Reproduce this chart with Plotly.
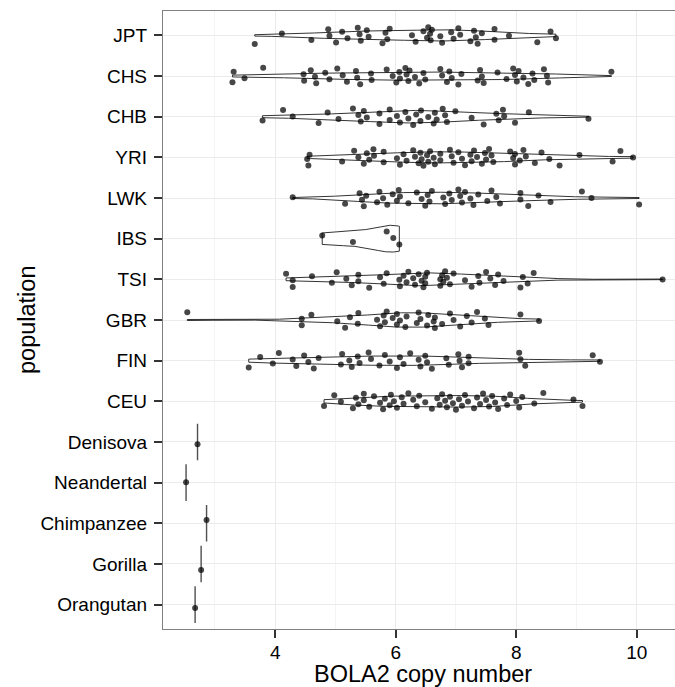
import numpy as np
import plotly.graph_objects as go

# BOLA2 copy number per individual, 1000 Genomes populations (top to bottom)
populations = ["JPT", "CHS", "CHB", "YRI", "LWK", "IBS", "TSI", "GBR", "FIN", "CEU"]
archaic = ["Denisova", "Neandertal", "Chimpanzee", "Gorilla", "Orangutan"]

jpt = [3.66, 4.11, 4.60, 4.88, 4.90, 5.01, 5.11, 5.20, 5.37, 5.40, 5.42, 5.52, 5.55,
       5.78, 5.83, 5.86, 5.90, 6.27, 6.33, 6.46, 6.52, 6.54, 6.57, 6.58, 6.60, 6.74,
       6.77, 6.92, 6.96, 7.04, 7.07, 7.24, 7.30, 7.33, 7.36, 7.43, 7.64, 7.64, 7.88,
       8.35, 8.57, 8.66]
chs = [3.29, 3.31, 3.49, 3.80, 4.47, 4.48, 4.59, 4.66, 4.68, 4.83, 4.90, 5.03, 5.12,
       5.19, 5.34, 5.36, 5.41, 5.59, 5.60, 5.85, 5.95, 6.01, 6.06, 6.07, 6.16, 6.18,
       6.21, 6.23, 6.32, 6.39, 6.46, 6.49, 6.74, 6.77, 6.85, 6.89, 6.93, 7.04, 7.09,
       7.36, 7.40, 7.43, 7.46, 7.69, 7.84, 7.95, 7.98, 8.01, 8.04, 8.12, 8.20, 8.27,
       8.30, 8.46, 8.51, 8.53, 9.58]
chb = [3.79, 4.13, 4.29, 4.72, 4.87, 5.05, 5.29, 5.38, 5.42, 5.47, 5.52, 5.73, 5.73,
       5.90, 5.90, 6.02, 6.07, 6.16, 6.21, 6.29, 6.34, 6.41, 6.42, 6.54, 6.63, 6.65,
       6.68, 6.78, 6.82, 6.85, 6.99, 7.26, 7.46, 7.67, 7.71, 7.78, 7.80, 7.98, 8.21,
       9.20]
yri = [4.53, 4.55, 4.57, 5.11, 5.31, 5.38, 5.47, 5.52, 5.56, 5.63, 5.64, 5.80, 5.80,
       6.02, 6.07, 6.13, 6.18, 6.29, 6.32, 6.38, 6.41, 6.43, 6.46, 6.52, 6.54, 6.57,
       6.63, 6.65, 6.74, 6.74, 6.90, 6.93, 6.96, 7.04, 7.10, 7.15, 7.24, 7.26, 7.30,
       7.35, 7.43, 7.48, 7.50, 7.55, 7.59, 7.62, 7.90, 7.95, 7.98, 7.98, 8.06, 8.12,
       8.16, 8.31, 8.42, 8.55, 8.72, 9.05, 9.60, 9.73, 9.94]
lwk = [4.29, 5.16, 5.40, 5.44, 5.47, 5.51, 5.69, 5.73, 5.79, 5.86, 5.95, 6.02, 6.05,
       6.07, 6.21, 6.35, 6.43, 6.49, 6.53, 6.56, 6.60, 6.79, 6.82, 6.89, 6.93, 7.04,
       7.07, 7.10, 7.15, 7.24, 7.29, 7.37, 7.52, 7.59, 7.67, 7.73, 8.07, 8.07, 8.20,
       8.37, 8.57, 9.09, 9.25, 10.04]
ibs = [4.78, 5.29, 5.85, 5.96, 6.06]
tsi = [4.18, 4.29, 4.29, 4.61, 4.94, 5.02, 5.18, 5.27, 5.38, 5.38, 5.56, 5.74, 5.80,
       5.85, 6.06, 6.07, 6.13, 6.18, 6.21, 6.29, 6.32, 6.38, 6.43, 6.46, 6.49, 6.49,
       6.52, 6.74, 6.74, 6.77, 6.79, 6.82, 6.85, 6.90, 6.96, 7.15, 7.26, 7.37, 7.39,
       7.50, 7.57, 7.65, 7.70, 7.79, 8.07, 8.11, 8.19, 8.29, 10.43]
gbr = [2.54, 4.44, 4.44, 4.60, 5.03, 5.16, 5.24, 5.37, 5.38, 5.69, 5.74, 5.80, 5.82,
       5.85, 5.95, 6.02, 6.02, 6.07, 6.16, 6.18, 6.35, 6.38, 6.41, 6.52, 6.54, 6.63,
       6.65, 6.65, 6.77, 6.90, 6.96, 7.07, 7.18, 7.26, 7.35, 7.48, 7.54, 8.07, 8.38]
fin = [3.56, 3.75, 3.96, 4.06, 4.29, 4.35, 4.48, 4.55, 4.64, 4.72, 5.09, 5.11, 5.23,
       5.27, 5.37, 5.40, 5.55, 5.59, 5.73, 5.82, 5.90, 6.02, 6.07, 6.13, 6.24, 6.38,
       6.41, 6.49, 6.52, 6.60, 6.84, 6.88, 7.04, 7.06, 7.10, 7.21, 7.21, 8.05, 8.07,
       8.15, 9.27, 9.39]
ceu = [4.81, 4.98, 5.09, 5.29, 5.34, 5.38, 5.47, 5.47, 5.56, 5.64, 5.74, 5.79, 5.82,
       5.90, 5.92, 5.97, 6.02, 6.10, 6.13, 6.21, 6.29, 6.35, 6.39, 6.49, 6.60, 6.69,
       6.73, 6.77, 6.82, 6.85, 6.90, 6.95, 7.00, 7.05, 7.10, 7.15, 7.20, 7.30, 7.35,
       7.40, 7.45, 7.50, 7.55, 7.60, 7.65, 7.70, 7.80, 7.85, 7.90, 8.00, 8.05, 8.10,
       8.30, 8.45, 8.95, 9.10]

# single genomes: Denisova, Neandertal, Chimpanzee, Gorilla, Orangutan
archaic_cn = [2.71, 2.52, 2.86, 2.77, 2.67]

pop_values = dict(zip(populations, [jpt, chs, chb, yri, lwk, ibs, tsi, gbr, fin, ceu]))
archaic_values = dict(zip(archaic, archaic_cn))

x_ticks = [4, 6, 8, 10]
x_minor = [3, 5, 7, 9]

order = populations + archaic
ypos = {name: len(order) - i for i, name in enumerate(order)}

VIOLIN_WIDTH = 0.66   # full width of the violin with the highest density peak
JITTER_HEIGHT = 0.21


def nrd0(v):
    """Silverman's rule of thumb, as in R's density() default."""
    v = np.asarray(v, float)
    sd = v.std(ddof=1)
    q75, q25 = np.percentile(v, [75, 25])
    lo = min(sd, (q75 - q25) / 1.34)
    if lo <= 0:
        lo = sd
    return 0.9 * lo * len(v) ** -0.2


def trimmed_kde(v, n_grid=512):
    """Gaussian KDE evaluated on the data range only (trimmed violin)."""
    v = np.asarray(v, float)
    bw = nrd0(v)
    grid = np.linspace(v.min(), v.max(), n_grid)
    z = (grid[:, None] - v[None, :]) / bw
    dens = np.exp(-0.5 * z ** 2).sum(axis=1) / (len(v) * bw * np.sqrt(2 * np.pi))
    return grid, dens


def jitter(n, phase, height=JITTER_HEIGHT):
    k = np.arange(n)
    return ((k * 0.6180339887 + phase) % 1.0 - 0.5) * 2 * height


kdes = {name: trimmed_kde(pop_values[name]) for name in populations}
peak = max(d.max() for _, d in kdes.values())   # area scaling across violins

fig = go.Figure()

for name in populations:
    grid, dens = kdes[name]
    half = dens / peak * VIOLIN_WIDTH / 2
    y0 = ypos[name]
    xs = np.concatenate([grid, grid[::-1], grid[:1]])
    ys = np.concatenate([y0 + half, (y0 - half)[::-1], [y0 + half[0]]])
    fig.add_trace(go.Scatter(
        x=xs, y=ys, mode="lines", fill="toself", fillcolor="white",
        line=dict(color="black", width=0.8),
        hoverinfo="skip", showlegend=False,
    ))

# single-sample genomes: a collapsed box is a vertical bar
for name in archaic:
    fig.add_trace(go.Box(
        x=[archaic_values[name]], y=[ypos[name]], orientation="h", width=0.9,
        boxpoints=False, fillcolor="rgba(0,0,0,0)",
        line=dict(color="#505050", width=1.4),
        hoverinfo="skip", showlegend=False,
    ))

# jittered individuals
px, py = [], []
for i, name in enumerate(populations):
    vals = pop_values[name]
    px.extend(vals)
    py.extend(ypos[name] + jitter(len(vals), 0.137 * i))
for i, name in enumerate(archaic):
    px.append(archaic_values[name])
    py.append(ypos[name] + jitter(1, 0.31 + 0.23 * i, 0.15)[0])

fig.add_trace(go.Scatter(
    x=px, y=py, mode="markers",
    marker=dict(size=6, color="rgba(0,0,0,0.72)", line=dict(width=0)),
    hoverinfo="skip", showlegend=False,
))

fig.update_layout(
    width=675, height=687,
    margin=dict(l=163, r=0, t=11, b=58),
    paper_bgcolor="white", plot_bgcolor="white",
    boxmode="overlay", showlegend=False,
    font=dict(family="Liberation Sans, Arial, sans-serif", color="black"),
)

fig.update_xaxes(
    type="linear", range=[2.137, 10.636],
    tickvals=x_ticks, ticktext=[str(t) for t in x_ticks],
    ticks="outside", ticklen=8, tickwidth=1.6, tickcolor="#333333",
    ticklabelstandoff=-2,
    tickfont=dict(size=19, color="black"),
    showline=True, linecolor="#7f7f7f", linewidth=1.3, mirror=True,
    showgrid=True, gridcolor="#ebebeb", gridwidth=1,
    minor=dict(tickvals=x_minor, showgrid=True, gridcolor="#f4f4f4", gridwidth=1, ticks=""),
    zeroline=False,
)

fig.update_yaxes(
    type="linear", range=[0.4, 15.6],
    tickvals=[ypos[n] for n in order], ticktext=order,
    ticks="outside", ticklen=8, tickwidth=1.6, tickcolor="#333333",
    ticklabelstandoff=3,
    tickfont=dict(size=19, color="black"),
    showline=True, linecolor="#7f7f7f", linewidth=1.3, mirror=False,
    showgrid=True, gridcolor="#ebebeb", gridwidth=1,
    zeroline=False,
)

fig.add_annotation(
    text="BOLA2 copy number", xref="paper", yref="paper",
    x=(423 - 163) / 512, y=-(674 - 629) / 618,
    xanchor="center", yanchor="middle", showarrow=False,
    font=dict(size=23.5, color="black"),
)
fig.add_annotation(
    text="population", xref="paper", yref="paper",
    x=(27 - 163) / 512, y=0.5, textangle=-90,
    xanchor="center", yanchor="middle", showarrow=False,
    font=dict(size=23.5, color="black"),
)

fig.write_html("out.html")
